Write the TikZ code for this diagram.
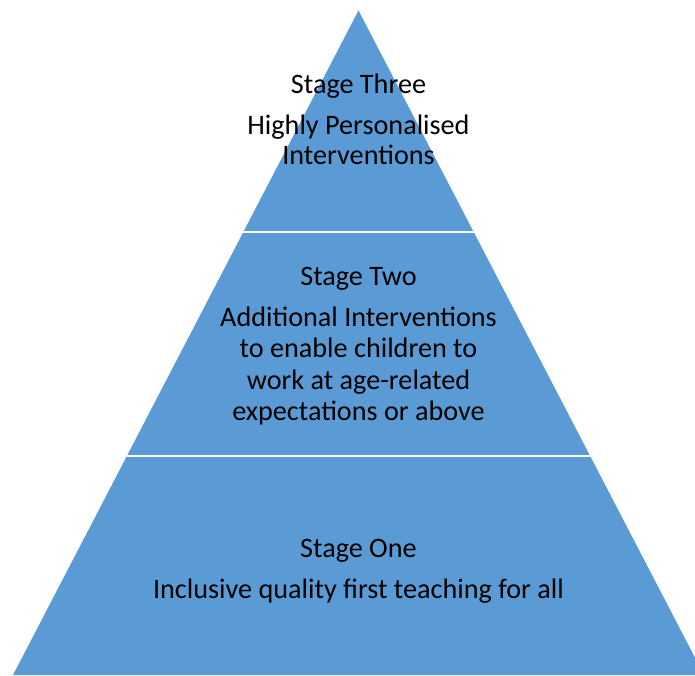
\documentclass[tikz,border=0pt]{standalone}
\usepackage{fontspec}
\setmainfont{Carlito}
\definecolor{pyrblue}{HTML}{5B9BD5}
\begin{document}
\begin{tikzpicture}[x=1pt,y=1pt,
  lbl/.style={anchor=base, inner sep=0pt, text=black,
    font=\fontsize{28.2}{31.3}\selectfont},
  sep/.style={white, line width=2.7pt}]
\useasboundingbox (0,0) rectangle (695,675);
\clip (0,0) rectangle (695,675);
\coordinate (apex) at (358.5,664.5);
\coordinate (bl) at (13,0);
\coordinate (br) at (704,0);
\coordinate (s1l) at (0,443);
\coordinate (s1r) at (695,443);
\coordinate (s2l) at (0,219);
\coordinate (s2r) at (695,219);
\fill[pyrblue] (apex) -- (bl) -- (br) -- cycle;
\begin{scope}
  \clip (apex) -- (bl) -- (br) -- cycle;
  \draw[sep] (s1l) -- (s1r);
  \draw[sep] (s2l) -- (s2r);
\end{scope}
\node[lbl] (t3) at (358.5,581.5) {Stage Three};
\node[lbl] (b3a) at (358.5,540.5) {Highly Personalised};
\node[lbl] (b3b) at (358.5,510) {Interventions};
\node[lbl] (t2) at (358.5,389.5) {Stage Two};
\node[lbl] (b2a) at (358.5,348.5) {Additional Interventions};
\node[lbl] (b2b) at (358.5,317.5) {to enable children to};
\node[lbl] (b2c) at (358.5,286) {work at age-related};
\node[lbl] (b2d) at (358.5,254.5) {expectations or above};
\node[lbl] (t1) at (358.5,118) {Stage One};
\node[lbl] (b1) at (358.5,76.5) {Inclusive quality first teaching for all};
\end{tikzpicture}
\end{document}
